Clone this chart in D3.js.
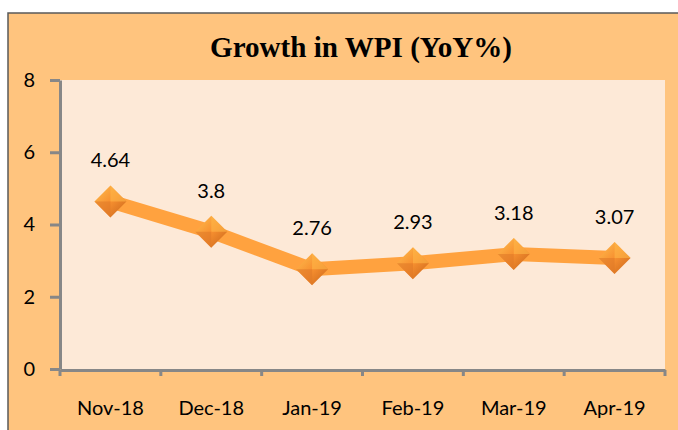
<!DOCTYPE html>
<html>
<head>
<meta charset="utf-8">
<script src="https://cdn.jsdelivr.net/npm/d3@7"></script>
<style>
  body { margin: 0; background: #fff; }
  .tick text { font-family: Lato, "Open Sans", sans-serif; font-size: 20px; fill: #000; }
  .lbl { font-family: Lato, "Open Sans", sans-serif; font-size: 20px; fill: #000; }
</style>
</head>
<body>
<svg id="chart"></svg>
<script>
let months = ["Nov-18", "Dec-18", "Jan-19", "Feb-19", "Mar-19", "Apr-19"],
  wpi = [4.64, 3.8, 2.76, 2.93, 3.18, 3.07],
  yTicks = [0, 2, 4, 6, 8];

let width = 678,
  height = 430,
  margins = {left: 60, right: 13, top: 80, bottom: 61};

let svg = d3.select("#chart").attr("width", width).attr("height", height)

// outer panel
svg.append("rect")
  .attr("x", 8).attr("y", 13)
  .attr("width", width).attr("height", height)
  .attr("fill", "#FFC47E")
  .attr("stroke", "#595959").attr("stroke-width", 1.5)

let x = d3.scaleBand()
  .domain(months)
  .range([margins.left, width - margins.right])
let y = d3.scaleLinear()
  .domain([0, 8])
  .range([height - margins.bottom, margins.top])

// plot area
svg.append("rect")
  .attr("x", margins.left).attr("y", margins.top)
  .attr("width", width - margins.right - margins.left)
  .attr("height", height - margins.bottom - margins.top)
  .attr("fill", "#FDE9D7")

svg.append("text")
  .text("Growth in WPI (YoY%)")
  .attr("x", 361).attr("y", 57)
  .attr("text-anchor", "middle")
  .attr("textLength", 302)
  .attr("lengthAdjust", "spacingAndGlyphs")
  .style("font-family", "'Liberation Serif', 'Times New Roman', serif")
  .style("font-weight", "bold")
  .style("font-size", "30px")

let x_axis = svg.append("g")
  .attr("transform", `translate(0, ${height - margins.bottom + 1})`)
  .call(d3.axisBottom(x).tickSizeOuter(0).tickSize(0).tickPadding(31))
x_axis.select(".domain").attr("stroke", "#878787").attr("stroke-width", 3)
// tick marks between bands
x_axis.selectAll(".sep")
  .data(months.concat(["end"]))
  .enter().append("line")
  .attr("class", "sep")
  .attr("x1", (d, i) => margins.left + i * x.step())
  .attr("x2", (d, i) => margins.left + i * x.step())
  .attr("y1", 0).attr("y2", 6)
  .attr("stroke", "#878787").attr("stroke-width", 3)

let y_axis = svg.append("g")
  .attr("transform", `translate(${margins.left}, 0)`)
  .call(d3.axisLeft(y).tickValues(yTicks).tickSize(10).tickSizeOuter(0).tickPadding(15))
y_axis.select(".domain").attr("stroke", "#878787").attr("stroke-width", 3)
y_axis.selectAll(".tick line").attr("stroke", "#878787").attr("stroke-width", 3)

let data = months.map((m, i) => ({month: m, value: wpi[i]}))
let cx = d => x(d.month) + x.bandwidth() / 2

svg.append("path")
  .datum(data)
  .attr("d", d3.line().x(cx).y(d => y(d.value)))
  .attr("fill", "none")
  .attr("stroke", "#FFA23F")
  .attr("stroke-width", 14)

let defs = svg.append("defs")
let grad = defs.append("linearGradient").attr("id", "dg")
  .attr("x1", "0").attr("y1", "0").attr("x2", "1").attr("y2", "1")
grad.append("stop").attr("offset", "0%").attr("stop-color", "#FFC050")
grad.append("stop").attr("offset", "50%").attr("stop-color", "#F79030")
grad.append("stop").attr("offset", "100%").attr("stop-color", "#C8641A")

let diamonds = svg.append("g").selectAll("g")
  .data(data).enter().append("g")
  .attr("transform", d => `translate(${cx(d)}, ${y(d.value)})`)
diamonds.append("path")
  .attr("d", "M0,-16L16,0L0,16L-16,0Z")
  .attr("fill", "url(#dg)")
diamonds.append("path")
  .attr("d", "M0,-16L16,0L0,0Z")
  .attr("fill", "#FFB848").attr("opacity", 0.6)
diamonds.append("path")
  .attr("d", "M0,16L-16,0L0,0Z")
  .attr("fill", "#E07A28").attr("opacity", 0.6)

svg.append("g").selectAll("text")
  .data(data).enter().append("text")
  .attr("class", "lbl")
  .attr("x", cx)
  .attr("y", d => y(d.value) - 34)
  .attr("text-anchor", "middle")
  .text(d => d.value)
</script>
</body>
</html>
